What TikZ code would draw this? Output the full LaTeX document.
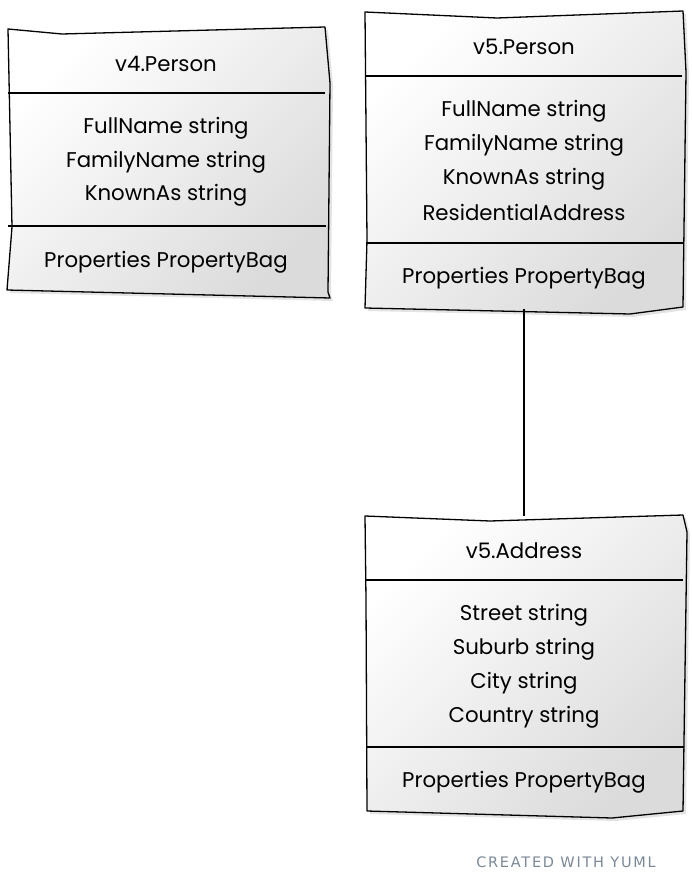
\documentclass[tikz,border=0pt]{standalone}
\usepackage{fontspec}
\setmainfont{Poppins}
\newfontfamily\footfont[LetterSpace=12]{DejaVu Sans}
\usetikzlibrary{shadows}
\definecolor{footgrey}{HTML}{7A8898}
\tikzset{
  boxshape/.style={draw=black, line width=1.3pt, line join=round,
    top color=white, bottom color=black!14, shading angle=45,
    drop shadow={shadow xshift=3pt, shadow yshift=-3pt, opacity=0.18, fill=black!60}},
  divider/.style={draw=black, line width=1.3pt},
  member/.style={font=\fontsize{21.3}{24}\selectfont, inner sep=0pt, anchor=center, yshift=-1.5pt},
  link/.style={draw=black, line width=1.3pt},
  footer/.style={font=\footfont\fontsize{14.5}{16}\selectfont, text=footgrey, inner sep=0pt}
}
\begin{document}
\begin{tikzpicture}[x=1pt,y=-1pt]
\useasboundingbox (0,0) rectangle (691,891);
% v4.Person
\path[boxshape] (8,29) -- (62,34) -- (325,27) -- (330,83) -- (328,292) -- (330,298) -- (7,290) -- (12,227) -- cycle;
\draw[divider] (8,93) -- (325,93);
\draw[divider] (8,226) -- (326,226);
\node[member] (v4title) at (166,62) {v4.Person};
\node[member] (v4a1) at (166,127) {FullName string};
\node[member] (v4a2) at (166,161) {FamilyName string};
\node[member] (v4a3) at (166,194) {KnownAs string};
\node[member] (v4m1) at (166,261) {Properties PropertyBag};
% v5.Person
\path[boxshape] (365,12) -- (497,18) -- (683,11) -- (686,72) -- (683,307) -- (630,314) -- (365,308) -- (367,240) -- cycle;
\draw[divider] (366,76) -- (682,76);
\draw[divider] (366,243) -- (684,243);
\node[member] (p5title) at (524,45) {v5.Person};
\node[member] (p5a1) at (524,110) {FullName string};
\node[member] (p5a2) at (524,144) {FamilyName string};
\node[member] (p5a3) at (524,178) {KnownAs string};
\node[member] (p5a4) at (524,211) {ResidentialAddress};
\node[member] (p5m1) at (524,277) {Properties PropertyBag};
% v5.Address
\path[boxshape] (365,516) -- (490,521) -- (683,515) -- (687,532) -- (683,811) -- (612,818) -- (367,811) -- (366,600) -- cycle;
\draw[divider] (366,580) -- (683,580);
\draw[divider] (366,747) -- (684,747);
\node[member] (a5title) at (524,549) {v5.Address};
\node[member] (a5a1) at (524,614) {Street string};
\node[member] (a5a2) at (524,648) {Suburb string};
\node[member] (a5a3) at (524,682) {City string};
\node[member] (a5a4) at (524,716) {Country string};
\node[member] (a5m1) at (524,781) {Properties PropertyBag};
% connector
\coordinate (p5bottom) at (524,309);
\coordinate (a5top) at (524,516);
\draw[link] (p5bottom) -- (a5top);
% footer
\node[footer] (credit) at (566,862) {CREATED WITH YUML};
\end{tikzpicture}
\end{document}
